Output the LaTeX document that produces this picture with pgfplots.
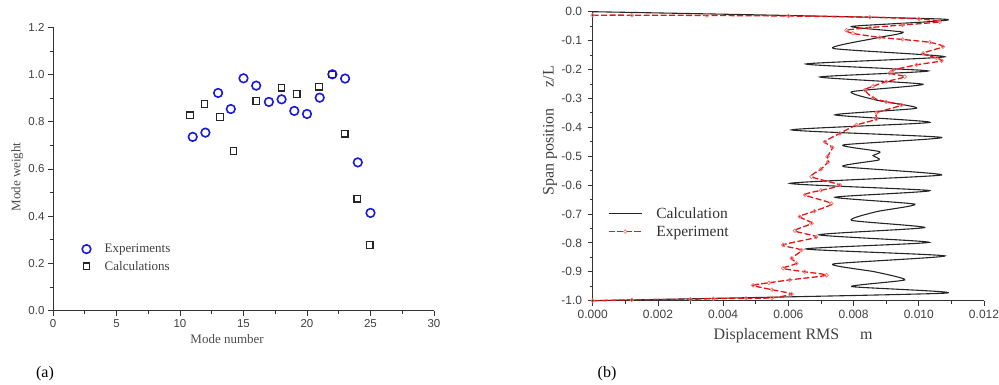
\documentclass[border=0pt]{standalone}
\usepackage{fontspec}
\setmainfont{Liberation Serif}
\setsansfont{Liberation Sans}
\usepackage{pgfplots}
\pgfplotsset{compat=1.18}
\definecolor{expblue}{RGB}{25,25,225}
\definecolor{expred}{RGB}{230,20,20}
\definecolor{mkpink}{RGB}{238,120,120}
\begin{document}
\begin{tikzpicture}
\path[use as bounding box] (0pt,0pt) rectangle (999pt,385pt);
% ---------------- (a) ----------------
\begin{axis}[
  at={(53pt,74.3pt)}, anchor=south west,
  scale only axis, width=381pt, height=283.4pt,
  xmin=0, xmax=30, ymin=0, ymax=1.2,
  axis x line*=bottom, axis y line*=left,
  axis line style={black!80, line width=0.8pt},
  tick align=outside, major tick length=5pt, minor tick length=3pt,
  tick style={black!80, line width=0.8pt},
  xtick={0,5,10,15,20,25,30}, xticklabels={0,5,10,15,20,25,30},
  minor x tick num=1,
  ytick={0,0.2,0.4,0.6,0.8,1.0,1.2}, yticklabels={0.0,0.2,0.4,0.6,0.8,1.0,1.2},
  minor y tick num=1,
  ticklabel style={font=\fontsize{11.5}{13}\sffamily, text=black!75},
  xlabel={Mode number}, ylabel={Mode weight},
  label style={font=\fontsize{13}{15}\selectfont, text=black!70},
  xlabel style={at={(axis description cs:0.457,-0.1)}, anchor=center},
  ylabel style={at={(axis description cs:-0.094,0.472)}, anchor=center},
  legend style={at={(axis description cs:0.058,0.25)}, anchor=north west, draw=none, fill=none,
    font=\fontsize{13}{15}\selectfont, text=black!75, row sep=3pt},
  legend cell align=left,
  legend image code/.code={\draw[#1] plot coordinates {(8pt,0pt)}; \path (0pt,0pt) (24pt,0pt);},
  clip=false,
]
\addplot[only marks, mark=o, mark size=4.3pt, draw=expblue, mark options={line width=1.6pt}]
coordinates {
(11,0.736) (12,0.754) (13,0.922) (14,0.854) (15,0.984) (16,0.953) (17,0.884) (18,0.895)
(19,0.846) (20,0.833) (21,0.902) (22,1.001) (23,0.983) (24,0.628) (25,0.414)
};
\addlegendentry{Experiments}
\addplot[only marks, mark=square, mark size=3.3pt, draw=black!85, mark options={line width=1.3pt}]
coordinates {
(10.78,0.827) (11.93,0.875) (13.16,0.820) (14.21,0.676) (16.0,0.888) (17.99,0.944)
(19.2,0.918) (20.95,0.949) (21.97,1.0) (22.97,0.75) (23.97,0.474) (24.94,0.278)
};
\addlegendentry{Calculations}
\end{axis}
% ---------------- (b) ----------------
\begin{axis}[
  at={(592.7pt,84.3pt)}, anchor=south west,
  scale only axis, width=391.3pt, height=289pt,
  xmin=0, xmax=0.012, ymin=-1, ymax=0,
  axis x line*=bottom, axis y line*=left,
  axis line style={black!80, line width=0.8pt},
  tick align=outside, major tick length=5pt, minor tick length=3pt,
  tick style={black!80, line width=0.8pt},
  scaled x ticks=false, scaled y ticks=false,
  xtick={0,0.002,0.004,0.006,0.008,0.010,0.012},
  xticklabels={0.000,0.002,0.004,0.006,0.008,0.010,0.012},
  minor x tick num=1,
  ytick={-1,-0.9,-0.8,-0.7,-0.6,-0.5,-0.4,-0.3,-0.2,-0.1,0},
  yticklabels={-1.0,-0.9,-0.8,-0.7,-0.6,-0.5,-0.4,-0.3,-0.2,-0.1,0.0},
  minor y tick num=1,
  ticklabel style={font=\fontsize{12}{14}\sffamily, text=black!75},
  yticklabel style={xshift=-2pt},
  xticklabel style={yshift=-1pt},
  xlabel={Displacement RMS\hspace{1.3em}m}, ylabel={Span position\hspace{1.3em}z/L},
  label style={font=\fontsize{16}{18}\selectfont, text=black!75},
  xlabel style={at={(axis description cs:0.512,-0.122)}, anchor=center},
  ylabel style={at={(axis description cs:-0.109,0.587)}, anchor=center},
  legend style={at={(axis description cs:0.031,0.337)}, anchor=north west, draw=none, fill=none,
    font=\fontsize{15.5}{17}\selectfont, text=black!80, row sep=2pt},
  legend cell align=left,
  legend image code/.code={\draw[mark repeat=2,mark phase=2,#1] plot coordinates {(0pt,0pt) (16.5pt,0pt) (33pt,0pt)}; \path (0pt,0pt) (45pt,0pt);},
  clip=false,
]
\addplot[black!85, line width=1.1pt, smooth, tension=0.35] coordinates {
(0,0.0) (0.0108,-0.026) (0.00794,-0.051) (0.00952,-0.071) (0.0087,-0.091) (0.00737,-0.127)
(0.0108,-0.156) (0.00654,-0.181) (0.01029,-0.205) (0.00697,-0.226) (0.01013,-0.251)
(0.00794,-0.277) (0.0087,-0.306) (0.00993,-0.334) (0.00743,-0.357) (0.01034,-0.383)
(0.0061,-0.409) (0.0107,-0.435) (0.00768,-0.461) (0.0088,-0.484) (0.0086,-0.498)
(0.00878,-0.513) (0.00768,-0.536) (0.0107,-0.565) (0.00605,-0.594) (0.01034,-0.619)
(0.00743,-0.642) (0.00988,-0.666) (0.0087,-0.692) (0.00794,-0.722) (0.01018,-0.747)
(0.00694,-0.772) (0.01032,-0.798) (0.00654,-0.821) (0.0108,-0.845) (0.00737,-0.873)
(0.00865,-0.900) (0.00957,-0.928) (0.00794,-0.951) (0.0108,-0.974) (0,-1.0)
};
\addlegendentry{Calculation}
\addplot[expred, line width=1.3pt, dash pattern=on 6pt off 2.5pt, smooth, tension=0.4,
  mark=o, mark size=1.8pt, mark options={solid, draw=mkpink, line width=0.7pt}] coordinates {
(0,-0.012) (0.0012,-0.012) (0.0035,-0.013) (0.006,-0.015) (0.0085,-0.019) (0.0100,-0.025)
(0.01064,-0.035) (0.0095,-0.046) (0.0085,-0.055) (0.00778,-0.064) (0.00798,-0.075)
(0.0088,-0.089) (0.0095,-0.096) (0.01034,-0.106) (0.01074,-0.121) (0.01013,-0.144)
(0.01054,-0.160) (0.0107,-0.170) (0.00993,-0.184) (0.00921,-0.202) (0.0091,-0.213)
(0.00957,-0.225) (0.009,-0.242) (0.0086,-0.258) (0.00835,-0.271) (0.0086,-0.298)
(0.0090,-0.312) (0.00947,-0.323) (0.0087,-0.350) (0.0087,-0.372) (0.00809,-0.392)
(0.00758,-0.421) (0.00712,-0.450) (0.00735,-0.470) (0.0072,-0.502) (0.00722,-0.519)
(0.0070,-0.545) (0.00671,-0.571) (0.00758,-0.600) (0.0070,-0.618) (0.00651,-0.634)
(0.00732,-0.664) (0.0068,-0.690) (0.00635,-0.709) (0.00671,-0.732) (0.0062,-0.758)
(0.00685,-0.780) (0.00584,-0.807) (0.0064,-0.825) (0.0061,-0.853) (0.00625,-0.871)
(0.00584,-0.888) (0.0065,-0.900) (0.00717,-0.912) (0.00604,-0.928) (0.0054,-0.938)
(0.00492,-0.947) (0.0055,-0.962) (0.0061,-0.977) (0.0055,-0.990) (0.0047,-0.992)
(0.0037,-0.993) (0.0030,-0.995) (0.0012,-0.997) (0,-1.0)
};
\addlegendentry{Experiment}
\end{axis}
\node[font=\fontsize{16}{18}\selectfont] at (45pt,11pt) {(a)};
\node[font=\fontsize{16}{18}\selectfont] at (607pt,11pt) {(b)};
\end{tikzpicture}
\end{document}
